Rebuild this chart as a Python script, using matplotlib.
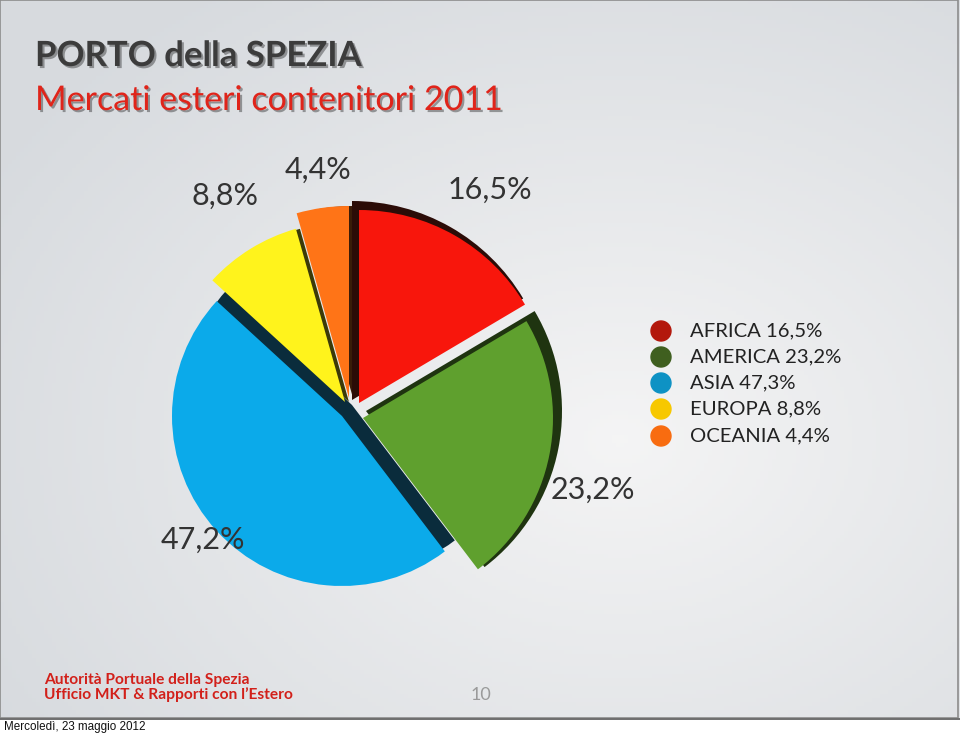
import numpy as np
import matplotlib.pyplot as plt
from matplotlib.patches import Wedge, Circle, Rectangle
import matplotlib.patheffects as pe

# ---------------------------------------------------------------
# data
# ---------------------------------------------------------------
regions      = ["AFRICA", "AMERICA", "ASIA", "EUROPA", "OCEANIA"]
pie_shares   = [16.5, 23.2, 47.2, 8.8, 4.4]
pie_labels   = ["16,5%", "23,2%", "47,2%", "8,8%", "4,4%"]
legend_share = ["16,5%", "23,2%", "47,3%", "8,8%", "4,4%"]

# ---------------------------------------------------------------
# style (positions in pixels, y measured from the top)
# ---------------------------------------------------------------
W, H = 960, 734
FONT = "Lato"

face_cols   = ["#F8160C", "#5FA02E", "#0BAAEA", "#FFF31C", "#FF7417"]
shadow_cols = ["#2B0C07", "#1F3410", "#0A2C3C", "#3C3A08", "#3A1C08"]
legend_cols = ["#B3180C", "#3F5F1F", "#0E92C4", "#F7C800", "#F86C10"]

apex     = [(359, 403), (363, 418), (342, 416), (345, 402), (349, 398)]
radius   = [193, 190, 170, 180, 192]
sh_shift = [(-7, 3), (3, 7), (10, 11), (4, 0), (4, 0)]   # (dx, dy up)
sh_grow  = [6, 6, 0, 0, 0]
label_xy = [(490, 190), (593, 490), (203, 540), (225, 196), (318, 170)]

fig = plt.figure(figsize=(W / 100, H / 100), dpi=100)
ax = fig.add_axes([0, 0, 1, 1])
ax.set_xlim(0, W)
ax.set_ylim(0, H)
ax.axis("off")

def py(y):
    return H - y

# ---------------------------------------------------------------
# slide background (soft radial gradient) + border
# ---------------------------------------------------------------
gx, gy = np.meshgrid(np.linspace(0, W, 240), np.linspace(0, 718, 180))
d = np.sqrt(((gx - 620) / 720) ** 2 + ((gy - 440) / 540) ** 2)
d = np.clip(d, 0, 1)
c0 = np.array([0.958, 0.958, 0.960])
c1 = np.array([0.845, 0.858, 0.874])
img = c0[None, None, :] * (1 - d[..., None]) + c1[None, None, :] * d[..., None]
ax.imshow(img, extent=[0, W, py(718), H], origin="upper", aspect="auto", zorder=0)
ax.add_patch(Rectangle((0, py(718)), W - 2, 718, fill=False,
                       edgecolor="#8C8C8C", lw=1.2, zorder=1))
ax.add_patch(Rectangle((0, 0), W, py(719), color="white", zorder=1))
ax.plot([0, W], [py(719), py(719)], color="#6E6E6E", lw=1.4, zorder=2)

# ---------------------------------------------------------------
# titles
# ---------------------------------------------------------------
shadow = [pe.withSimplePatchShadow(offset=(1.5, -1.5), shadow_rgbFace="k", alpha=0.35)]
ax.text(35, py(56), "PORTO della SPEZIA", fontsize=25, fontweight="bold",
        family=FONT, color="#3C3C3C", va="center", ha="left",
        path_effects=shadow, zorder=5)
ax.text(35, py(100), "Mercati esteri contenitori 2011", fontsize=24.5,
        family=FONT, color="#E0241A", va="center", ha="left",
        path_effects=shadow, zorder=5)

# ---------------------------------------------------------------
# exploded pie with dark extrusion, clockwise from 12 o'clock
# ---------------------------------------------------------------
shares = np.array(pie_shares) / sum(pie_shares) * 360.0
ends = 90 - np.cumsum(shares)
starts = ends + shares
for i in [2, 3, 4, 1, 0]:
    cx, cy = apex[i]
    dx, dy = sh_shift[i]
    ax.add_patch(Wedge((cx + dx, py(cy) + dy), radius[i] + sh_grow[i],
                       ends[i], starts[i], facecolor=shadow_cols[i],
                       edgecolor="none", zorder=3))
for i in range(len(regions)):
    cx, cy = apex[i]
    ax.add_patch(Wedge((cx, py(cy)), radius[i], ends[i], starts[i],
                       facecolor=face_cols[i], edgecolor="none", zorder=4))

for i in range(len(regions)):
    lx, ly = label_xy[i]
    ax.text(lx, py(ly), pie_labels[i], fontsize=22, family=FONT,
            color="#333333", ha="center", va="center", zorder=5)

# ---------------------------------------------------------------
# legend
# ---------------------------------------------------------------
leg_y = [331, 357, 383, 409, 436]
for i in range(len(regions)):
    ax.add_patch(Circle((661, py(leg_y[i])), 10, color=legend_cols[i], zorder=5))
    ax.text(690, py(leg_y[i]), regions[i] + " " + legend_share[i],
            fontsize=14.6, family=FONT, color="#222222",
            ha="left", va="center", zorder=5)

# ---------------------------------------------------------------
# footer
# ---------------------------------------------------------------
ax.text(44, py(680), "Autorità Portuale della Spezia", fontsize=11.2,
        fontweight="bold", family=FONT, color="#D2201A", va="center", zorder=5)
ax.text(44, py(695), "Ufficio MKT & Rapporti con l\u2019Estero", fontsize=11.2,
        fontweight="bold", family=FONT, color="#D2201A", va="center", zorder=5)
ax.text(481, py(695), "10", fontsize=13, family=FONT, color="#9A9A9A",
        ha="center", va="center", zorder=5)
ax.text(4, py(727), "Mercoledì, 23 maggio 2012", fontsize=8.4,
        family="Liberation Sans", color="#111111", va="center", zorder=5)

fig.savefig("out.png", dpi=100)
